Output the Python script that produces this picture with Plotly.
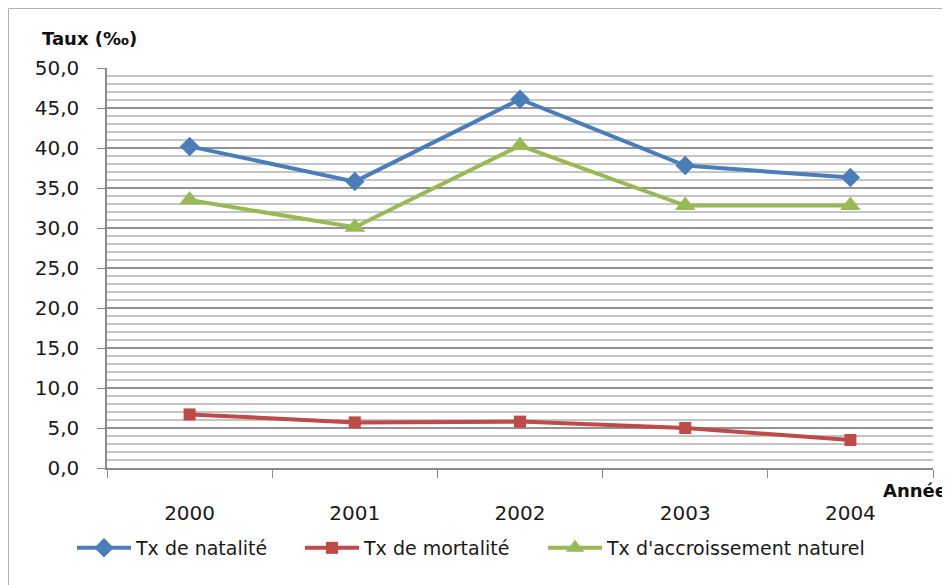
import plotly.graph_objects as go

annees = ["2000", "2001", "2002", "2003", "2004"]
natalite = [40.2, 35.8, 46.1, 37.8, 36.3]
mortalite = [6.7, 5.7, 5.8, 5.0, 3.5]
accroissement = [33.5, 30.1, 40.3, 32.8, 32.8]
y_ticks = [0, 5, 10, 15, 20, 25, 30, 35, 40, 45, 50]
y_ticktext = ["0,0", "5,0", "10,0", "15,0", "20,0", "25,0", "30,0", "35,0", "40,0", "45,0", "50,0"]

FONT = "DejaVu Sans"
W, H = 950, 585
OFF = 8  # page body margin offset
# plot area in screen pixels: x 107..933, y 68..468
L, R, T, B = 107 - OFF, W - (933 - OFF), 68 - OFF, H - (468 - OFF)
pw, ph = W - L - R, H - T - B

def px(sx):
    return (sx - OFF - L) / pw

def py(sy):
    return (H - (sy - OFF) - B) / ph

BLUE, RED, GREEN = "#4A7EBB", "#BE4B48", "#98B954"

fig = go.Figure()
fig.add_trace(go.Scatter(x=annees, y=natalite, name="Tx de natalité", mode="lines+markers",
                         line=dict(color=BLUE, width=4), legend="legend",
                         marker=dict(symbol="diamond", size=15, color=BLUE)))
fig.add_trace(go.Scatter(x=annees, y=mortalite, name="Tx de mortalité", mode="lines+markers",
                         line=dict(color=RED, width=4), legend="legend2",
                         marker=dict(symbol="square", size=12, color=RED)))
fig.add_trace(go.Scatter(x=annees, y=accroissement, name="Tx d'accroissement naturel", mode="lines+markers",
                         line=dict(color=GREEN, width=4), legend="legend3",
                         marker=dict(symbol="triangle-up", size=18, color=GREEN)))

def leg(sx):
    return dict(orientation="h", xref="container", yref="container",
                x=(sx - OFF) / W, y=1 - (548 - OFF) / H, xanchor="left", yanchor="middle",
                font=dict(size=19, family=FONT, color="#1a1a1a"), itemwidth=54,
                bgcolor="rgba(0,0,0,0)", borderwidth=0)

fig.update_layout(
    width=W, height=H,
    margin=dict(l=L, r=R, t=T, b=B, autoexpand=False),
    paper_bgcolor="white", plot_bgcolor="white",
    font=dict(family=FONT, size=18, color="#1a1a1a"),
    showlegend=True,
    legend=leg(72), legend2=leg(300), legend3=leg(543),
)
fig.update_xaxes(type="category", range=[-0.5, 4.5], tickson="boundaries", ticks="outside", ticklen=8,
                 tickcolor="#8a8a8a", showline=True, linecolor="#8a8a8a", linewidth=1.5, automargin=False,
                 showgrid=False, ticklabelstandoff=26, tickfont=dict(size=20, family=FONT, color="#1a1a1a"))
fig.update_yaxes(range=[0, 50], tickvals=y_ticks, ticktext=y_ticktext, ticks="outside", ticklen=8,
                 tickcolor="#8a8a8a", showline=True, linecolor="#8a8a8a", linewidth=1.5, automargin=False,
                 showgrid=True, gridcolor="#929292", gridwidth=1.5, zeroline=False,
                 minor=dict(dtick=1, showgrid=True, gridcolor="#c4c4c4", gridwidth=1.5, ticks=""),
                 ticklabelstandoff=14, tickfont=dict(size=20, family=FONT, color="#1a1a1a"))

fig.add_annotation(text="<b>Taux (‰)</b>", xref="paper", yref="paper",
                   x=px(40), y=py(38), xanchor="left", yanchor="middle",
                   showarrow=False, font=dict(size=18, family=FONT, color="#111"))
fig.add_annotation(text="<b>Année</b>", xref="paper", yref="paper",
                   x=px(881), y=py(490), xanchor="left", yanchor="middle",
                   showarrow=False, font=dict(size=18, family=FONT, color="#111"))
fig.add_shape(type="rect", xref="paper", yref="paper",
              x0=px(8.5), x1=px(W + 40),
              y0=py(H + 40), y1=py(8.5),
              line=dict(color="#b0b0b0", width=1), layer="below")

fig.write_html("out.html")
